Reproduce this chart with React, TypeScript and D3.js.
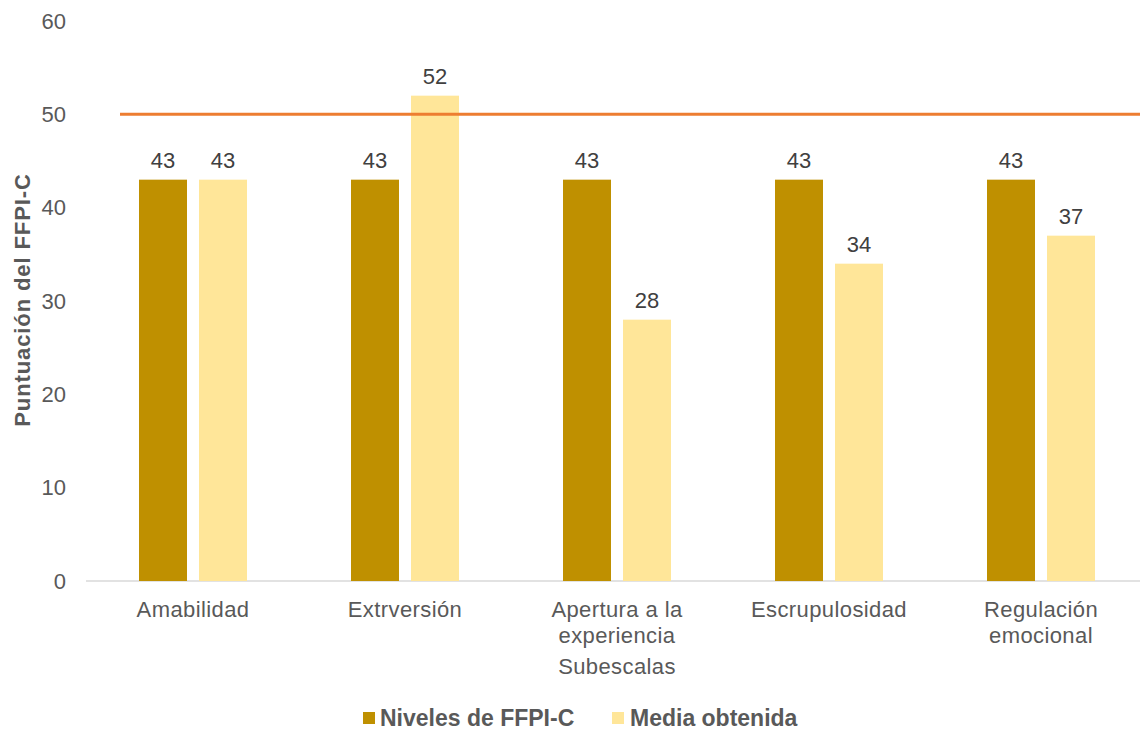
import React from "react";
import * as d3 from "d3";

const categories = [["Amabilidad"], ["Extrversión"], ["Apertura a la", "experiencia"], ["Escrupulosidad"], ["Regulación", "emocional"]];
const nivelesValues = [43, 43, 43, 43, 43];
const mediaValues = [43, 52, 28, 34, 37];
const yTicks = [0, 10, 20, 30, 40, 50, 60];
const seriesNames = ["Niveles de FFPI-C", "Media obtenida"];
const referenceValue = 50;

const W = 1140, H = 732;
const DARK = "#BF9000";
const LIGHT = "#FFE699";
const ORANGE = "#ED7D31";
const TEXT = "#595959";
const FONT = "Arial, 'Liberation Sans', sans-serif";
const FS = 22;

export default function App() {
  const x0 = d3.scaleBand<number>().domain(categories.map((_, i) => i)).range([87, 1147]).paddingInner(0).paddingOuter(0);
  const y = d3.scaleLinear().domain([0, 60]).range([581, 21]);
  const step = x0.step();
  const barW = 48, gap = 12;
  const groupW = barW * 2 + gap;

  return (
    <svg width={W} height={H} style={{ position: "absolute", left: 0, top: 0, background: "#fff" }} fontFamily={FONT}>
      {yTicks.map((t) => (
        <text key={t} x={66} y={y(t)} dy="0.35em" textAnchor="end" fontSize={FS} fill={TEXT}>{t}</text>
      ))}
      <line x1={86} x2={1140} y1={y(0)} y2={y(0)} stroke="#D9D9D9" strokeWidth={1.5} />
      {categories.map((c, i) => {
        const start = (x0(i) as number) + (step - groupW) / 2;
        const xs = [start, start + barW + gap];
        const vals = [nivelesValues[i], mediaValues[i]];
        return (
          <g key={i}>
            {vals.map((v, j) => (
              <g key={j}>
                <rect x={xs[j]} y={y(v)} width={barW} height={y(0) - y(v)} fill={j === 0 ? DARK : LIGHT} />
                <text x={xs[j] + barW / 2} y={y(v) - 12} textAnchor="middle" fontSize={FS} fill="#404040">{v}</text>
              </g>
            ))}
            {c.map((line, k) => (
              <text key={k} x={(x0(i) as number) + step / 2} y={617 + k * 26} textAnchor="middle" fontSize={FS} letterSpacing={0.4} fill={TEXT}>{line}</text>
            ))}
          </g>
        );
      })}
      <line x1={120} x2={1140} y1={y(referenceValue)} y2={y(referenceValue)} stroke={ORANGE} strokeWidth={3} />
      <text x={617} y={674} textAnchor="middle" fontSize={FS} letterSpacing={0.4} fill={TEXT}>Subescalas</text>
      <text transform={`translate(30,${300}) rotate(-90)`} textAnchor="middle" fontSize={FS} letterSpacing={0.9} fontWeight="bold" fill={TEXT}>Puntuación del FFPI-C</text>
      <g>
        <rect x={363} y={712} width={12} height={12} fill={DARK} />
        <text x={380} y={718} dy="0.35em" fontSize={23} fontWeight="bold" fill={TEXT}>{seriesNames[0]}</text>
        <rect x={612} y={712} width={12} height={12} fill={LIGHT} />
        <text x={630} y={718} dy="0.35em" fontSize={23} fontWeight="bold" fill={TEXT}>{seriesNames[1]}</text>
      </g>
    </svg>
  );
}
